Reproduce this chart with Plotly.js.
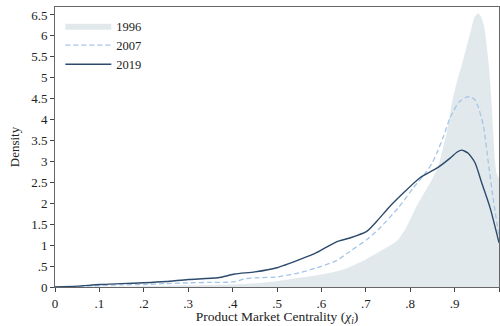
<!DOCTYPE html>
<html>
<head>
<meta charset="utf-8">
<script src="https://cdn.plot.ly/plotly-3.0.1.min.js"></script>
<style>html,body{margin:0;padding:0;background:#fff}#chart{width:500px;height:326px}</style>
</head>
<body>
<div id="chart"></div>
<script>
var x1996 = [0, 0.1, 0.2, 0.3, 0.4, 0.45, 0.5, 0.55, 0.6, 0.65, 0.7, 0.74, 0.77, 0.79, 0.815, 0.845, 0.863, 0.882, 0.895, 0.905, 0.916, 0.926, 0.935, 0.945, 0.953, 0.96, 0.967, 0.972, 0.978, 0.983, 0.987, 0.991, 0.995, 1.0];
var y1996 = [0, 0.01, 0.02, 0.04, 0.06, 0.09, 0.14, 0.22, 0.3, 0.42, 0.66, 0.9, 1.1, 1.4, 1.94, 2.49, 2.88, 3.68, 4.45, 4.9, 5.3, 5.7, 6.06, 6.45, 6.54, 6.45, 6.2, 5.8, 5.2, 4.45, 3.7, 3.0, 2.7, 2.6];

var x2007 = [0, 0.05, 0.1, 0.15, 0.2, 0.25, 0.3, 0.35, 0.4, 0.43, 0.45, 0.5, 0.55, 0.59, 0.634, 0.664, 0.702, 0.728, 0.773, 0.807, 0.837, 0.85, 0.86, 0.875, 0.89, 0.91, 0.925, 0.935, 0.945, 0.953, 0.965, 0.976, 0.987, 1.0];
var y2007 = [0, 0.01, 0.035, 0.05, 0.06, 0.08, 0.1, 0.11, 0.12, 0.2, 0.22, 0.24, 0.34, 0.46, 0.63, 0.85, 1.13, 1.37, 1.89, 2.37, 2.76, 2.97, 3.2, 3.6, 4.05, 4.42, 4.53, 4.55, 4.48, 4.31, 3.84, 2.97, 2.1, 1.2];

var x2019 = [0, 0.05, 0.1, 0.15, 0.2, 0.25, 0.3, 0.367, 0.405, 0.45, 0.5, 0.552, 0.589, 0.634, 0.664, 0.702, 0.728, 0.751, 0.785, 0.822, 0.86, 0.89, 0.905, 0.916, 0.93, 0.946, 0.961, 0.98, 1.0];
var y2019 = [0, 0.02, 0.06, 0.08, 0.1, 0.13, 0.18, 0.22, 0.31, 0.36, 0.46, 0.66, 0.82, 1.08, 1.17, 1.33, 1.61, 1.89, 2.25, 2.61, 2.84, 3.08, 3.22, 3.27, 3.2, 2.97, 2.49, 1.89, 1.06];

var xTickVals = [0, 0.1, 0.2, 0.3, 0.4, 0.5, 0.6, 0.7, 0.8, 0.9, 1];
var xTickText = ["0", ".1", ".2", ".3", ".4", ".5", ".6", ".7", ".8", ".9", "1"];
var yTickVals = [0, 0.5, 1, 1.5, 2, 2.5, 3, 3.5, 4, 4.5, 5, 5.5, 6, 6.5];
var yTickText = ["0", ".5", "1", "1.5", "2", "2.5", "3", "3.5", "4", "4.5", "5", "5.5", "6", "6.5"];

var traces = [
  {x: x1996, y: y1996, name: "1996", type: "scatter", mode: "lines", fill: "tozeroy",
   fillcolor: "#e2e9ed", line: {width: 0, color: "#e2e9ed", shape: "spline", smoothing: 0.5}},
  {x: x2007, y: y2007, name: "2007", type: "scatter", mode: "lines",
   line: {width: 1.3, color: "#a3c6e8", dash: "5px,3px", shape: "spline", smoothing: 0.6}},
  {x: x2019, y: y2019, name: "2019", type: "scatter", mode: "lines",
   line: {width: 1.4, color: "#2c4a6b", shape: "spline", smoothing: 0.6}}
];

var layout = {
  width: 500, height: 326,
  margin: {l: 55, r: 1, t: 7, b: 38.5},
  paper_bgcolor: "#fff", plot_bgcolor: "#fff",
  font: {family: "Liberation Serif", size: 13, color: "#222"},
  showlegend: true,
  legend: {x: 0.012, y: 0.985, xanchor: "left", yanchor: "top", bgcolor: "rgba(0,0,0,0)",
           font: {size: 12.5, family: "Liberation Serif"}, itemwidth: 46, tracegroupgap: 0},
  xaxis: {range: [0, 1], tickvals: xTickVals, ticktext: xTickText, ticks: "outside", ticklen: 4,
          tickcolor: "#444", showgrid: false, zeroline: false, showline: true, linecolor: "#666",
          linewidth: 1, mirror: true, tickfont: {size: 13},
          title: {text: "Product Market Centrality (<i>χ<sub>i</sub></i>)", font: {size: 13.5}, standoff: 5}},
  yaxis: {range: [0, 6.69], tickvals: yTickVals, ticktext: yTickText, ticks: "outside", ticklen: 4,
          tickcolor: "#444", showgrid: false, zeroline: false, showline: true, linecolor: "#666",
          linewidth: 1, mirror: true, tickfont: {size: 13},
          title: {text: "Density", font: {size: 13}, standoff: 8}}
};

Plotly.newPlot("chart", traces, layout, {displayModeBar: false, staticPlot: true});
</script>
</body>
</html>
